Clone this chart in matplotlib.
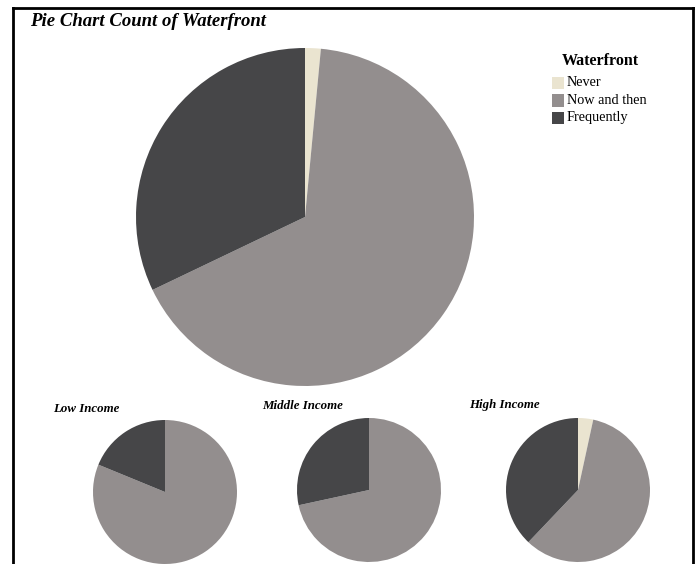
import matplotlib.pyplot as plt
from matplotlib.lines import Line2D
from matplotlib.patches import Rectangle

# waterfront answer shares (percent), overall and per income group
categories = ['Never', 'Now and then', 'Frequently']
colors = ['#EAE4D0', '#938E8E', '#464648']

overall = [1.5, 66.4, 32.1]
groups = ['Low Income', 'Middle Income', 'High Income']
group_values = [
    [0.0, 81.2, 18.8],
    [0.0, 71.6, 28.4],
    [3.4, 58.7, 37.9],
]

W, H = 695, 564
fig = plt.figure(figsize=(W / 100, H / 100), dpi=100)
plt.rcParams['font.family'] = ['Liberation Serif', 'DejaVu Serif']


def pie_axes(cx, cy, r):
    """Axes holding a unit pie centred at pixel (cx, cy) with radius r."""
    ax = fig.add_axes([(cx - r) / W, (H - cy - r) / H, 2 * r / W, 2 * r / H])
    return ax


def draw_pie(ax, values):
    ax.pie(values, colors=colors, startangle=90, counterclock=False,
           wedgeprops=dict(linewidth=0))
    ax.set_xlim(-1, 1)
    ax.set_ylim(-1, 1)
    ax.set_aspect('equal')
    ax.axis('off')


# main pie
ax = pie_axes(305, 217, 169)
draw_pie(ax, overall)

# income group pies
centers = [(165, 492), (369, 490), (578, 490)]
title_pos = [(53, 409), (262, 406), (469, 405)]
for (cx, cy), (tx, ty), name, vals in zip(centers, title_pos, groups, group_values):
    sub = pie_axes(cx, cy, 72)
    draw_pie(sub, vals)
    fig.text(tx / W, 1 - ty / H, name, fontsize=9.3, fontweight='bold',
             fontstyle='italic', va='center', ha='left')

fig.text(30 / W, 1 - 21 / H, 'Pie Chart Count of Waterfront', fontsize=13.5,
         fontweight='bold', fontstyle='italic', va='center', ha='left')

# legend, laid out by hand
fig.text(562 / W, 1 - 61 / H, 'Waterfront', fontsize=11.5, fontweight='bold',
         va='center', ha='left')
for i, (label, c) in enumerate(zip(categories, colors)):
    y = 83 + i * 17.5
    fig.add_artist(Rectangle((552 / W, 1 - (y + 6) / H), 12 / W, 12 / H,
                             facecolor=c, edgecolor='none',
                             transform=fig.transFigure))
    fig.text(567 / W, 1 - y / H, label, fontsize=10.3, va='center', ha='left')

# outer frame lines
frame_kw = dict(color='black', linewidth=2, transform=fig.transFigure)
fig.add_artist(Line2D([12.5 / W, 12.5 / W], [0, 1 - 7.5 / H], **frame_kw))
fig.add_artist(Line2D([12.5 / W, 1], [1 - 7.5 / H, 1 - 7.5 / H], **frame_kw))
fig.add_artist(Line2D([693 / W, 693 / W], [0, 1 - 7.5 / H], **frame_kw))

fig.savefig('out.png', dpi=100)
